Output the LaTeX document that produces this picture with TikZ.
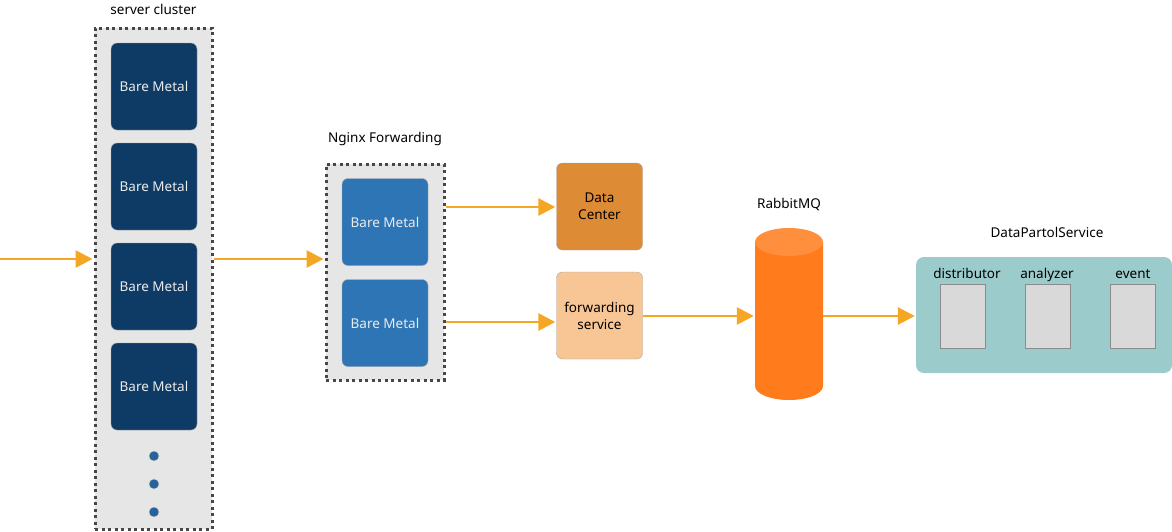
\documentclass[tikz,border=0pt]{standalone}
\usepackage{fontspec}
\setmainfont{Noto Sans}
\usetikzlibrary{arrows.meta}

\definecolor{flow}{HTML}{F5A623}
\definecolor{navy}{HTML}{0E3A66}
\definecolor{metalblue}{HTML}{2E75B6}
\definecolor{dcorange}{HTML}{DE8B35}
\definecolor{fwpeach}{HTML}{F8C695}
\definecolor{rabbit}{HTML}{FF7B1C}
\definecolor{rabbittop}{HTML}{FF8E3D}
\definecolor{teal}{HTML}{9CCBCB}
\definecolor{clustergray}{HTML}{E6E6E6}

\tikzset{
  cluster/.style={draw=black!72, fill=clustergray, line width=3pt,
    dash pattern=on 3pt off 3.5pt, inner sep=0pt},
  metal/.style={rounded corners=6pt, draw=black!35, fill=navy, text=white!92!black,
    minimum width=86pt, minimum height=87pt, font=\fontsize{13.5}{17}\selectfont},
  flowarrow/.style={draw=flow, line width=2.8pt,
    -{Triangle[length=17pt,width=17pt]}, shorten >=1pt},
  worker/.style={draw=black!45, fill=black!15, line width=0.8pt,
    minimum width=45pt, minimum height=64pt},
  caption/.style={font=\fontsize{13.5}{17}\selectfont}
}

\begin{document}
\begin{tikzpicture}[x=1pt,y=-1pt]
  \useasboundingbox (0,0) rectangle (1172,531);

  % server cluster
  \node[cluster, minimum width=117pt, minimum height=501pt] (cluster) at (153.5,278.5) {};
  \node[caption] (clusterlbl) at (153.5,9) {server cluster};
  \node[metal] (bm1) at (154,86.5) {Bare Metal};
  \node[metal] (bm2) at (154,186.5) {Bare Metal};
  \node[metal] (bm3) at (154,286.5) {Bare Metal};
  \node[metal] (bm4) at (154,386.5) {Bare Metal};
  \foreach \y/\n in {456/d1,484/d2,512/d3}
    \node[circle, fill=metalblue!85!black, draw=black!20, inner sep=0pt,
      minimum size=10pt] (\n) at (154,\y) {};

  % nginx
  \node[cluster, minimum width=118pt, minimum height=216pt] (nginx) at (385,272) {};
  \node[caption] (nginxlbl) at (385,139) {Nginx Forwarding};
  \node[metal, fill=metalblue] (ng1) at (385,222) {Bare Metal};
  \node[metal, fill=metalblue] (ng2) at (385,323) {Bare Metal};

  \node[metal, fill=dcorange, text=black, align=center] (dc) at (599.5,206.5) {Data\\Center};
  \node[metal, fill=fwpeach, text=black, align=center] (fw) at (599.5,315.5) {forwarding\\service};

  % rabbitmq
  \node[inner sep=0pt, minimum width=68pt, minimum height=172pt] (mq) at (789,314) {};
  \fill[rabbit] (755,242) -- (755,386)
    arc[start angle=180, end angle=360, x radius=34pt, y radius=14pt] -- (823,242) -- cycle;
  \fill[rabbittop] (789,242) ellipse[x radius=34pt, y radius=14pt];
  \node[caption] (mqlbl) at (789,205) {RabbitMQ};

  % data patrol
  \node[fill=teal, rounded corners=8pt, minimum width=256pt, minimum height=116pt,
    inner sep=0pt] (dps) at (1044,315) {};
  \node[caption] (dpslbl) at (1047,232) {DataPartolService};
  \node[worker] (dist) at (962.5,316) {};
  \node[worker] (anal) at (1047.5,316) {};
  \node[worker] (evt) at (1132.5,316) {};
  \node[caption, anchor=base] (distlbl) at (967,278) {distributor};
  \node[caption, anchor=base] (anallbl) at (1047,278) {analyzer};
  \node[caption, anchor=base] (evtlbl) at (1133,278) {event};

  % arrows
  \coordinate (in) at (0,259);
  \draw[flowarrow] (in) -- (cluster.west |- in);
  \draw[flowarrow] (cluster.east |- in) -- (nginx.west |- in);
  \draw[flowarrow] (nginx.east |- 0,207) -- (dc.west |- 0,207);
  \draw[flowarrow] (nginx.east |- 0,322) -- (fw.west |- 0,322);
  \draw[flowarrow] (fw.east |- 0,316) -- (mq.west |- 0,316);
  \draw[flowarrow] (mq.east |- 0,316) -- (dps.west |- 0,316);
\end{tikzpicture}
\end{document}
